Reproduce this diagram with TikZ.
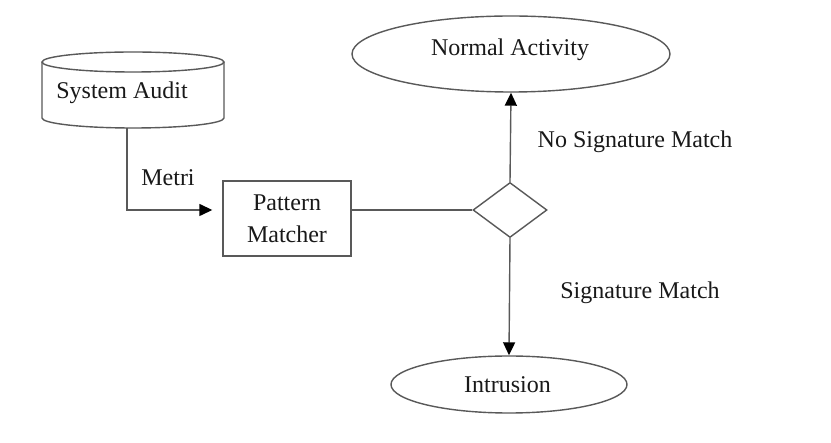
\documentclass[tikz,border=0pt]{standalone}
\usepackage{fontspec}
\setmainfont{Liberation Serif}
\usetikzlibrary{shapes.geometric,arrows.meta}
\begin{document}
\begin{tikzpicture}[x=1pt,y=-1pt,
  lbl/.style={font=\fontsize{24}{32}\selectfont, text=black!90, inner sep=0pt},
  shp/.style={draw=black!65, line width=1.4pt},
  conn/.style={draw=black!65, line width=1.4pt},
  arr/.style={conn, -{Triangle[length=13pt,width=12pt,black]}},
  ell/.style={shp, ellipse, inner sep=0pt}]
\useasboundingbox[fill=white] (0,0) rectangle (831,443);
% cylinder System Audit
\draw[shp] (133,62) ellipse [x radius=91, y radius=10];
\draw[shp] (42,62) -- (42,118) arc[start angle=180, end angle=0, x radius=91, y radius=10] -- (224,62);
\node[lbl] (audit) at (122,93) {System Audit};
\coordinate (auditb) at (127,128);
% pattern matcher
\node[shp, minimum width=128pt, minimum height=75pt, inner sep=0pt] (pm) at (287,218.5) {};
\node[lbl, align=center] (pmtext) at (287,219) {Pattern\\Matcher};
% diamond
\node[shp, diamond, minimum width=74pt, minimum height=55pt, inner sep=0pt] (dia) at (510,210) {};
% ellipses
\node[ell, minimum width=318pt, minimum height=76pt] (na) at (511,54) {};
\node[lbl] (natext) at (510,50) {Normal Activity};
\node[ell, minimum width=236pt, minimum height=57pt] (intr) at (509,384.5) {};
\node[lbl] (intrtext) at (507.5,385) {Intrusion};
% connectors
\draw[arr, shorten >=10pt] (auditb) |- (pm.west |- dia.west);
\draw[conn] (pm.east |- dia.west) -- (dia.west);
\draw[arr] (dia.north) -- (na.south);
\draw[arr] (dia.south) -- (intr.north);
% labels
\node[lbl] (metri) at (168,178) {Metri};
\node[lbl] (nsm) at (635,142) {No Signature Match};
\node[lbl] (sm) at (640,293) {Signature Match};
\end{tikzpicture}
\end{document}
